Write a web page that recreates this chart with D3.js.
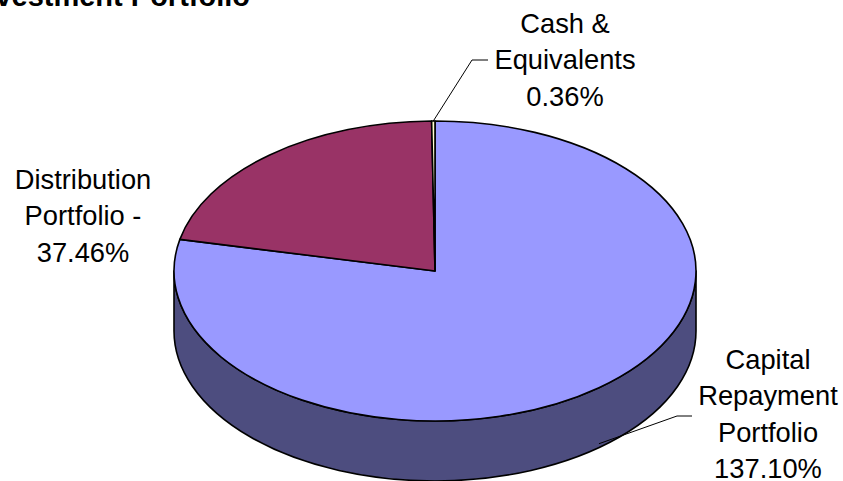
<!DOCTYPE html>
<html lang="en">
<head>
<meta charset="utf-8">
<title>Investment Portfolio</title>
<script src="https://d3js.org/d3.v7.min.js"></script>
<style>
  body { margin: 0; background: #fff; }
  svg { display: block; font-family: Arial, "Liberation Sans", sans-serif; }
  .label text { font-size: 27.3px; fill: #000; text-anchor: middle; }
  .title { font-size: 29px; font-weight: bold; fill: #000; }
</style>
</head>
<body>
<svg id="chart" width="843" height="481"></svg>
<script>
// data, in the order the slices run clockwise from 12 o'clock
var names = ['Capital Repayment Portfolio', 'Distribution Portfolio', 'Cash & Equivalents'];
var nameLines = [['Capital', 'Repayment', 'Portfolio'], ['Distribution', 'Portfolio -'], ['Cash &', 'Equivalents']];
var values = [137.10, 37.46, 0.36];
var topColors = ['#9999ff', '#993366', '#ffffcc'];
var sideColors = ['#4d4d7f', '#4d1a33', '#80806a'];

// geometry of the tilted pie
var cx = 435, cy = 271, rx = 261, ry = 150, depth = 60;

// where each label sits (centre x, first baseline) and its leader, if any
var labelPos = [
  { x: 768, y: 369, leader: [[692, 416], [677, 416]] },
  { x: 83, y: 189, leader: null },
  { x: 565, y: 33, leader: [[488, 60], [472, 60]] }
];
var lineGap = 36.3;

var svg = d3.select('#chart');
var fmt = d3.format('.2f');

var color = d3.scaleOrdinal().domain(names).range(topColors);
var sideColor = d3.scaleOrdinal().domain(names).range(sideColors);

var pie = d3.pie()
  .sort(null)
  .value(function(d, i) { return values[i]; });
var slices = pie(names);

function pt(a, dy) {
  return [cx + rx * Math.sin(a), cy - ry * Math.cos(a) + (dy || 0)];
}

function topPath(d) {
  var p0 = pt(d.startAngle), p1 = pt(d.endAngle);
  var large = (d.endAngle - d.startAngle) > Math.PI ? 1 : 0;
  return 'M' + cx + ',' + cy + 'L' + p0 + 'A' + rx + ',' + ry + ' 0 ' + large + ' 1 ' + p1 + 'Z';
}

// outer wall: only the front half (pi/2 .. 3pi/2) can be seen
function sidePath(d) {
  var s = Math.max(d.startAngle, Math.PI / 2), e = Math.min(d.endAngle, Math.PI * 1.5);
  if (e <= s) return null;
  var a = pt(s), b = pt(e), b2 = pt(e, depth), a2 = pt(s, depth);
  return 'M' + a + 'A' + rx + ',' + ry + ' 0 0 1 ' + b +
    'L' + b2 + 'A' + rx + ',' + ry + ' 0 0 0 ' + a2 + 'Z';
}

var g = svg.append('g');

g.selectAll('path.side')
  .data(slices.filter(function(d) { return sidePath(d); }))
  .enter()
  .append('path')
  .attr('class', 'side')
  .attr('d', sidePath)
  .attr('fill', function(d) { return sideColor(d.data); })
  .attr('stroke', '#000')
  .attr('stroke-width', 1.6)
  .attr('stroke-linejoin', 'round');

g.selectAll('path.top')
  .data(slices)
  .enter()
  .append('path')
  .attr('class', 'top')
  .attr('d', topPath)
  .attr('fill', function(d) { return color(d.data); })
  .attr('stroke', '#000')
  .attr('stroke-width', 1.6)
  .attr('stroke-linejoin', 'round');

// leader lines from slice middle to label
slices.forEach(function(d, i) {
  var lp = labelPos[i];
  if (!lp.leader) return;
  var mid = (d.startAngle + d.endAngle) / 2;
  var onFront = Math.cos(mid) < 0;
  var anchor = pt(mid, onFront ? depth - 4 : 0);
  var pts = lp.leader.concat([anchor]);
  svg.append('path')
    .attr('d', d3.line()(pts))
    .attr('fill', 'none')
    .attr('stroke', '#000')
    .attr('stroke-width', 1);
});

// labels: name lines, then the share
slices.forEach(function(d, i) {
  var lp = labelPos[i];
  var lines = nameLines[i].concat([fmt(values[i]) + '%']);
  var t = svg.append('g').attr('class', 'label');
  t.selectAll('text')
    .data(lines)
    .enter()
    .append('text')
    .attr('x', lp.x)
    .attr('y', function(s, k) { return lp.y + k * lineGap; })
    .text(function(s) { return s; });
});

svg.append('text')
  .attr('class', 'title')
  .attr('x', 250)
  .attr('y', 6)
  .attr('text-anchor', 'end')
  .text('Investment Portfolio');
</script>
</body>
</html>
